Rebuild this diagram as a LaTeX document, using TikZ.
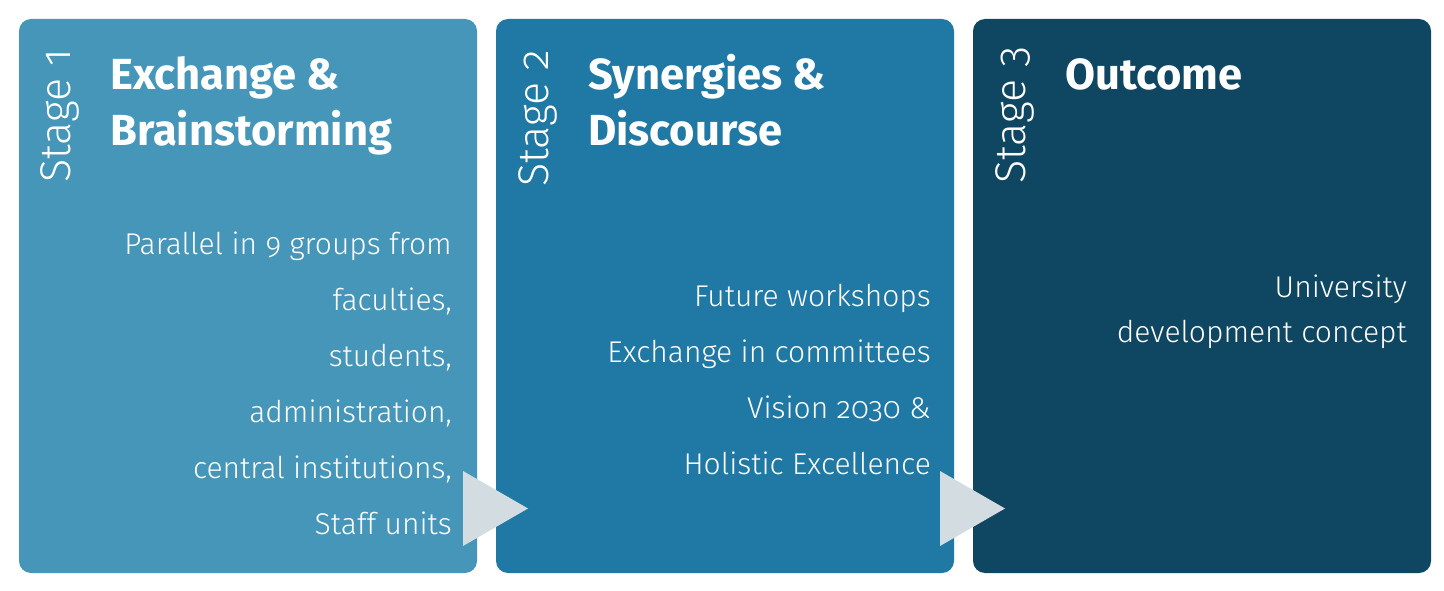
\documentclass[tikz,border=0pt]{standalone}
\usepackage{fontspec}
\setmainfont{Fira Sans}[Numbers=OldStyle]
\newfontfamily\lightfont{Fira Sans Light}[Numbers=OldStyle]
\definecolor{cone}{HTML}{4596B8}
\definecolor{ctwo}{HTML}{2079A5}
\definecolor{cthree}{HTML}{0F4762}
\definecolor{ctri}{HTML}{D3DDE1}
\tikzset{
  stagebox/.style={rectangle, rounded corners=12pt, minimum width=458pt, minimum height=554pt, inner sep=0pt, draw=none},
  stagelabel/.style={rotate=90, anchor=base west, text=white, inner sep=0pt, font=\lightfont\fontsize{43}{50}\selectfont},
  titletext/.style={anchor=base west, text=white, inner sep=0pt, font=\bfseries\fontsize{43.5}{50}\selectfont},
  bodytext/.style={anchor=base east, text=white, inner sep=0pt, font=\lightfont\fontsize{30}{34}\selectfont},
  tri/.style={fill=ctri, draw=none}
}
\begin{document}
\begin{tikzpicture}[x=1pt,y=-1pt]
\useasboundingbox (0,0) rectangle (1444,591);
\node[stagebox, fill=cone] (b1) at (248,296) {};
\node[stagebox, fill=ctwo] (b2) at (725,296) {};
\node[stagebox, fill=cthree] (b3) at (1202,296) {};
% arrows
\fill[tri] (463,471) -- (528,508.5) -- (463,546) -- cycle;
\fill[tri] (940,471) -- (1005,508.5) -- (940,546) -- cycle;
% stage labels
\node[stagelabel] (s1) at (70,183) {Stage 1};
\node[stagelabel] (s2) at (548,187) {Stage 2};
\node[stagelabel] (s3) at (1025,184) {Stage 3};
% titles
\node[titletext] (t11) at (110,90) {Exchange \&};
\node[titletext] (t12) at (110,146) {Brainstorming};
\node[titletext] (t21) at (588,90) {Synergies \&};
\node[titletext] (t22) at (588,146) {Discourse};
\node[titletext] (t31) at (1065,90) {Outcome};
% body texts
\foreach \t [count=\i] in {Parallel in 9 groups from, {faculties,}, {students,}, {administration,}, {central institutions,}, Staff units}
  \node[bodytext] (p1\i) at (452,{254+56*(\i-1)}) {\t};
\foreach \t [count=\i] in {Future workshops, Exchange in committees, Vision 2030 \&, Holistic Excellence}
  \node[bodytext] (p2\i) at (931,{306+56*(\i-1)}) {\t};
\node[bodytext] (p31) at (1407,297) {University};
\node[bodytext] (p32) at (1407,342) {development concept};
\end{tikzpicture}
\end{document}
